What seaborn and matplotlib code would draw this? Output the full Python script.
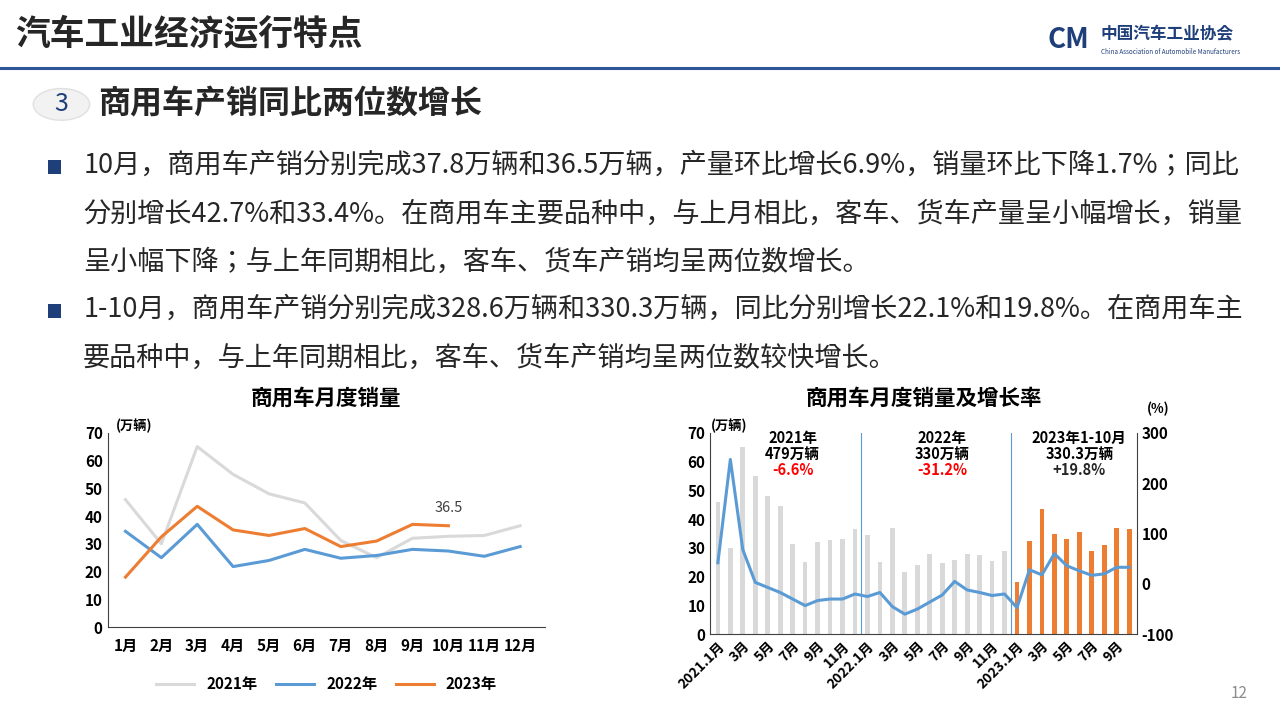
import numpy as np
import pandas as pd
import matplotlib.pyplot as plt
import matplotlib.font_manager as fm
import seaborn as sns
from matplotlib.patches import Rectangle, Circle

months = ['1月', '2月', '3月', '4月', '5月', '6月', '7月', '8月', '9月', '10月', '11月', '12月']
sales_2021 = [45.9, 30.0, 65.0, 55.0, 48.0, 44.7, 31.2, 25.0, 32.0, 32.7, 33.0, 36.5]
sales_2022 = [34.5, 25.0, 37.0, 21.8, 24.0, 28.0, 24.8, 25.8, 28.0, 27.4, 25.5, 29.0]
sales_2023 = [18.0, 32.5, 43.5, 35.0, 33.0, 35.5, 29.0, 31.0, 37.0, 36.5]
growth_2021 = [42, 247, 68, 3, -7, -17, -30, -43, -33, -30, -30, -20]
growth_2022 = [-25, -17, -45, -60, -50, -36, -22, 5, -12, -17, -23, -20]
growth_2023 = [-47, 28, 18, 60, 36, 26, 17, 20, 33, 33]

# CJK font: pick whatever name matplotlib gives the Noto Sans CJK file
cjk = [f for f in fm.fontManager.ttflist if 'NotoSansCJK-Regular' in f.fname]
fam = cjk[0].name if cjk else 'Noto Sans CJK SC'
plt.rcParams['font.family'] = [fam, 'DejaVu Sans']
plt.rcParams['axes.unicode_minus'] = False

GRAY = '#d9d9d9'
BLUE = '#5b9bd5'
ORANGE = '#ed7d31'
TXT = '#262626'

fig = plt.figure(figsize=(12.8, 7.2), dpi=100)

# ---- slide header ----
fig.text(0.012, 0.952, '汽车工业经济运行特点', fontsize=25, fontweight='bold', color=TXT, va='center')
fig.add_artist(plt.Line2D([0.0, 1.0], [0.905, 0.905], color='#2e5597', lw=2.2))
fig.text(0.86, 0.952, '中国汽车工业协会', fontsize=12, fontweight='bold', color='#1f3f7a', va='center')
fig.text(0.86, 0.928, 'China Association of Automobile Manufacturers', fontsize=4.5, color='#1f3f7a', va='center')
fig.text(0.835, 0.945, 'CM', fontsize=20, fontweight='bold', color='#1f3f7a', va='center', ha='center',
         style='italic')
fig.add_artist(Circle((0.048, 0.855), 0.022, transform=fig.transFigure, facecolor='#f2f2f2',
                      edgecolor='#e0e0e0'))
fig.text(0.048, 0.855, '3', fontsize=18, color='#1f3f7a', ha='center', va='center')
fig.text(0.077, 0.855, '商用车产销同比两位数增长', fontsize=23, fontweight='bold', color=TXT, va='center')

lines = [
    (0.770, True, '10月，商用车产销分别完成37.8万辆和36.5万辆，产量环比增长6.9%，销量环比下降1.7%；同比'),
    (0.703, False, '分别增长42.7%和33.4%。在商用车主要品种中，与上月相比，客车、货车产量呈小幅增长，销量'),
    (0.636, False, '呈小幅下降；与上年同期相比，客车、货车产销均呈两位数增长。'),
    (0.570, True, '1-10月，商用车产销分别完成328.6万辆和330.3万辆，同比分别增长22.1%和19.8%。在商用车主'),
    (0.503, False, '要品种中，与上年同期相比，客车、货车产销均呈两位数较快增长。'),
]
for y, bullet, s in lines:
    if bullet:
        fig.add_artist(Rectangle((0.0375, y - 0.011), 0.0105, 0.019, transform=fig.transFigure,
                                 facecolor='#1f3f7a'))
    fig.text(0.065, y, s, fontsize=19.5, color=TXT, va='center')

fig.text(0.975, 0.03, '12', fontsize=11, color='#8c8c8c', ha='right')

# ---- left chart ----
ax = fig.add_axes([0.084, 0.129, 0.342, 0.27])
df = pd.DataFrame({
    'm': list(range(12)) * 2 + list(range(10)),
    'v': sales_2021 + sales_2022 + sales_2023,
    'year': ['2021年'] * 12 + ['2022年'] * 12 + ['2023年'] * 10,
})
sns.lineplot(data=df, x='m', y='v', hue='year', palette=[GRAY, BLUE, ORANGE], lw=2.2, ax=ax)
ax.set_xlim(-0.5, 11.7)
ax.set_ylim(0, 70)
ax.set_xticks(range(12))
ax.set_xticklabels(months, fontsize=11, fontweight='bold')
ax.set_yticks(range(0, 71, 10))
ax.tick_params(axis='y', labelsize=11, length=0)
ax.tick_params(axis='x', length=0, pad=8)
for t in ax.get_yticklabels():
    t.set_fontweight('bold')
ax.set_xlabel('')
ax.set_ylabel('')
for sp in ['top', 'right']:
    ax.spines[sp].set_visible(False)
ax.spines['left'].set_color('#404040')
ax.spines['bottom'].set_color('#404040')
ax.text(9, sales_2023[9] + 4, f'{sales_2023[9]}', ha='center', va='bottom', fontsize=10.5, color='#404040')
ax.text(0.02, 1.0, '(万辆)', transform=ax.transAxes, fontsize=9.5, fontweight='bold', va='bottom')
ax.set_title('商用车月度销量', fontsize=15.5, fontweight='bold', pad=20)
ax.legend(loc='upper center', bbox_to_anchor=(0.5, -0.18), ncol=3, frameon=False,
          prop={'size': 11, 'weight': 'bold'}, handlelength=2.5, columnspacing=1.2)

# ---- right chart ----
ax = fig.add_axes([0.555, 0.119, 0.333, 0.28])
vals = sales_2021 + sales_2022 + sales_2023
lab = [f'{i}' for i in range(len(vals))]
cols = [GRAY] * 24 + [ORANGE] * 10
sns.barplot(x=lab, y=vals, hue=lab, palette=cols, legend=False, width=0.38, saturation=1, ax=ax)
ax.set_ylim(0, 70)
ax.set_xlim(-0.6, 33.6)
ax.set_yticks(range(0, 71, 10))
ticklabels = []
for i in range(34):
    if i % 2:
        ticklabels.append('')
    elif i == 0:
        ticklabels.append('2021.1月')
    elif i == 12:
        ticklabels.append('2022.1月')
    elif i == 24:
        ticklabels.append('2023.1月')
    else:
        ticklabels.append(f'{(i % 12) + 1}月')
ax.set_xticks(range(34))
ax.set_xticklabels(ticklabels, rotation=45, ha='right', rotation_mode='anchor', fontsize=10,
                   fontweight='bold')
ax.tick_params(length=0)
ax.tick_params(axis='y', labelsize=11)
for t in ax.get_yticklabels():
    t.set_fontweight('bold')
for sp in ['top', 'right']:
    ax.spines[sp].set_visible(False)
ax.spines['left'].set_color('#404040')
ax.spines['bottom'].set_color('#404040')
for xv in [11.5, 23.5]:
    ax.axvline(xv, color=BLUE, lw=0.8)
ax2 = ax.twinx()
g = growth_2021 + growth_2022 + growth_2023
sns.lineplot(x=list(range(34)), y=g, color=BLUE, lw=2.2, ax=ax2)
ax2.set_ylim(-100, 300)
ax2.set_yticks([-100, 0, 100, 200, 300])
ax2.tick_params(length=0, labelsize=11)
for t in ax2.get_yticklabels():
    t.set_fontweight('bold')
for sp in ['top', 'left', 'bottom']:
    ax2.spines[sp].set_visible(False)
ax2.spines['right'].set_color('#404040')
ax.text(0.0, 1.0, '(万辆)', transform=ax.transAxes, fontsize=9.5, fontweight='bold', va='bottom')
ax2.text(1.05, 1.08, '(%)', transform=ax2.transAxes, fontsize=9.5, fontweight='bold', va='bottom',
         ha='center')
ann = [(6, '2021年', '479万辆', '-6.6%', 'red'), (18, '2022年', '330万辆', '-31.2%', 'red'),
       (29, '2023年1-10月', '330.3万辆', '+19.8%', TXT)]
for xc, a, b, c, cc in ann:
    ax.text(xc, 71, a, ha='center', va='top', fontsize=10.5, fontweight='bold')
    ax.text(xc, 65.5, b, ha='center', va='top', fontsize=10.5, fontweight='bold')
    ax.text(xc, 60, c, ha='center', va='top', fontsize=10.5, fontweight='bold', color=cc)
ax.set_title('商用车月度销量及增长率', fontsize=15.5, fontweight='bold', pad=20)

fig.savefig('out.png', dpi=100)
